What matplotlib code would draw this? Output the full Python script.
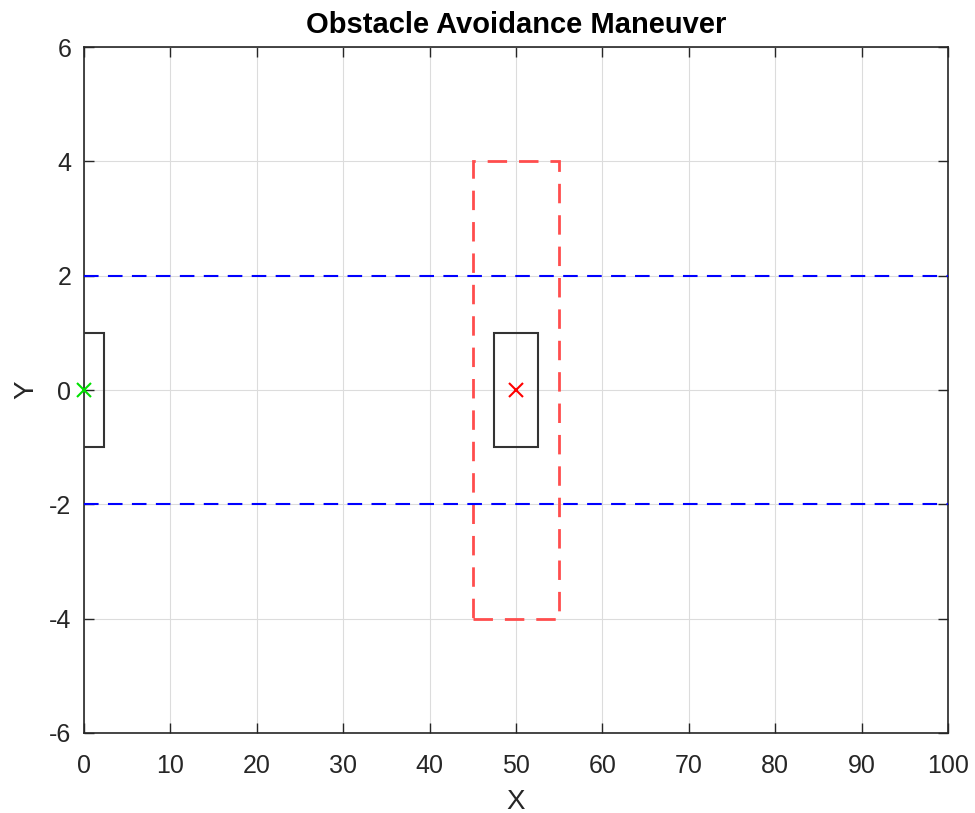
import matplotlib
matplotlib.use("Agg")
import matplotlib.pyplot as plt
from matplotlib.patches import Rectangle

plt.rcParams['font.family'] = ['Liberation Sans', 'DejaVu Sans']
plt.rcParams['axes.unicode_minus'] = False

# data
ego_center = (0.0, 0.0)
ego_size = (4.7, 2.0)
obstacle_center = (50.0, 0.0)
obstacle_size = (5.0, 2.0)
safety_size = (10.0, 8.0)
lane_bounds = [2.0, -2.0]
lane_x = [0.0, 100.0]
xticks = list(range(0, 101, 10))
yticks = list(range(-6, 7, 2))

fig = plt.figure(figsize=(9.75, 8.13), dpi=100)
ax = fig.add_axes([84/975, 1-733/813, (948-84)/975, (733-47)/813])

def rect(center, size, **kw):
    return Rectangle((center[0]-size[0]/2, center[1]-size[1]/2), size[0], size[1], fill=False, **kw)

ax.add_patch(rect(ego_center, ego_size, edgecolor='#333333', lw=1.5, zorder=3))
ax.add_patch(rect(obstacle_center, obstacle_size, edgecolor='#333333', lw=1.5, zorder=3))
ax.add_patch(rect(obstacle_center, safety_size, edgecolor='#ff4d4d', lw=2, linestyle=(0, (7, 4.3)), zorder=3))
for yb in lane_bounds:
    ax.plot(lane_x, [yb, yb], color='#0000ff', lw=1.5, linestyle=(0, (7, 4.5)), zorder=3)
ax.plot([ego_center[0]], [ego_center[1]], marker='x', color='#00e000', ms=10, mew=1.5, ls='none', zorder=4, clip_on=False)
ax.plot([obstacle_center[0]], [obstacle_center[1]], marker='x', color='#ff0000', ms=10, mew=1.5, ls='none', zorder=4)

ax.set_xlim(0, 100)
ax.set_ylim(-6, 6)
ax.set_xticks(xticks)
ax.set_yticks(yticks)
ax.grid(True, color='#dcdcdc', lw=0.8)
ax.set_axisbelow(True)
ax.tick_params(direction='in', top=True, right=True, length=7, width=1, colors='#262626', labelsize=18, labelcolor='#262626')
ax.tick_params(axis='x', pad=15)
ax.tick_params(axis='y', pad=9)
for s in ax.spines.values():
    s.set_color('#262626')
    s.set_linewidth(1.2)
ax.set_xlabel('X', fontsize=20, color='#262626', labelpad=8)
ax.set_ylabel('Y', fontsize=20, color='#262626', labelpad=7, rotation=90)
ax.set_title('Obstacle Avoidance Maneuver', fontsize=21, fontweight='bold', pad=10)

fig.savefig('out.png', dpi=100)
